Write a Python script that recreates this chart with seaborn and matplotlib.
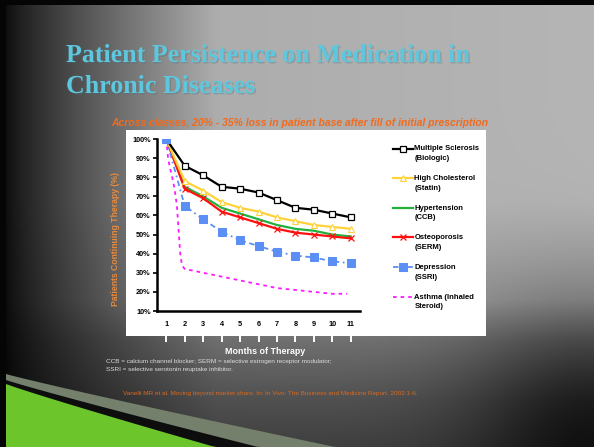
import numpy as np
import pandas as pd
import matplotlib
matplotlib.use("Agg")
import matplotlib.pyplot as plt
import seaborn as sns
from matplotlib.patches import Rectangle, Polygon
from matplotlib.lines import Line2D
from matplotlib.legend_handler import HandlerLine2D
import matplotlib.patheffects as pe

# ---------------- data ----------------
months = [1, 2, 3, 4, 5, 6, 7, 8, 9, 10, 11]
ms_biologic = [100, 86, 81, 75, 74, 72, 68, 64, 63, 61, 59]
chol_statin = [100, 78, 73, 67, 64, 62, 59, 57, 55, 54, 53]
htn_ccb = [100, 75, 70, 64, 61, 58, 55, 53, 52, 50, 49]
osteo_serm = [100, 74, 69, 62, 59, 56, 53, 51, 50, 49, 48]
depr_ssri = [100, 65, 58, 51.5, 47, 44, 41, 39, 38, 36, 35]
asthma_months = [1, 1.1, 1.2, 1.3, 1.45, 1.58, 1.67, 1.76, 1.85, 2, 3, 4, 5, 6, 7, 8, 9, 10, 10.8]
asthma_steroid = [100, 90, 85, 81, 74, 65, 52, 40, 34, 32, 30, 28, 26, 24, 22, 21, 20, 19, 19]

series_labels = ["Multiple Sclerosis\n(Biologic)", "High Cholesterol\n(Statin)",
                 "Hypertension\n(CCB)", "Osteoporosis\n(SERM)",
                 "Depression\n(SSRI)", "Asthma (Inhaled\nSteroid)"]
y_ticks = [10, 20, 30, 40, 50, 60, 70, 80, 90, 100]

W, H = 594, 447
fig = plt.figure(figsize=(W / 100, H / 100), dpi=100)

# ---------------- background ----------------
bg = fig.add_axes([0, 0, 1, 1], zorder=-10)
yy, xx = np.mgrid[0:H, 0:W].astype(float)
g = 0.66 + 0.05 * (xx / W)
f = np.clip((xx - 6) / 210.0, 0, 1) ** 0.8
g = g * (0.08 + 0.92 * f)
v = np.interp(yy, [0, 200, 300, 340, 400, 447], [1.0, 1.0, 0.86, 0.64, 0.46, 0.36])
g = g * v
g = g * (1 - 0.75 * np.exp(-((xx - W) ** 2 + (yy - H) ** 2) / (2 * 90.0 ** 2)))
g[:5, :] = 0.02
g[:, :6] = 0.02
bg.imshow(np.dstack([g, g, g]), extent=[0, W, H, 0], aspect="auto", interpolation="bilinear")
bg.set_xlim(0, W)
bg.set_ylim(H, 0)
bg.axis("off")

# swoosh
xs = np.linspace(6, 360, 80)
def curve(x0, y0, x1, y1, p=0.95):
    t = np.clip((xs - x0) / (x1 - x0), 0, 1)
    return y0 + (y1 - y0) * t ** p
top_gray = curve(6, 374, 335, 447)
top_black = curve(6, 380, 258, 447)
top_green = curve(6, 384, 215, 447)
for top, col in [(top_gray, "#74806c"), (top_black, "#0d0d0d"), (top_green, "#6cc52b")]:
    pts = [(x, y) for x, y in zip(xs, top) if y < 447] + [(xs[np.argmax(top >= 447)], 447), (6, 447)]
    bg.add_patch(Polygon(pts, closed=True, facecolor=col, edgecolor="none"))

# white chart panel
fig.patches.append(Rectangle((126 / W, 1 - 336 / H), 360 / W, 206 / H,
                             transform=fig.transFigure, facecolor="white",
                             edgecolor="none", zorder=-5))

# ---------------- titles ----------------
title_kw = dict(fontfamily="Liberation Serif", fontweight="bold", fontsize=18.7,
                color="#5ec6dd", ha="left", va="baseline",
                path_effects=[pe.withSimplePatchShadow(offset=(1, -1), shadow_rgbFace="#4a6a72", alpha=0.3)])
fig.text(66 / W, 1 - 62 / H, "Patient Persistence on Medication in", **title_kw)
fig.text(66 / W, 1 - 93 / H, "Chronic Diseases", **title_kw)
fig.text(300 / W, 1 - 123 / H,
         "Across classes, 20% - 35% loss in patient base after fill of initial prescription",
         fontfamily="Liberation Sans", fontweight="bold", fontstyle="italic", fontsize=7.5,
         color="#f26a1d", ha="center", va="center")

# ---------------- chart ----------------
ax = fig.add_axes([157 / W, 1 - 311 / H, 203 / W, 172 / H])
ax.set_facecolor("none")

df = pd.DataFrame({"month": months, "ms": ms_biologic, "chol": chol_statin,
                   "htn": htn_ccb, "osteo": osteo_serm, "depr": depr_ssri})
df_a = pd.DataFrame({"month": asthma_months, "asthma": asthma_steroid})

sns.lineplot(data=df, x="month", y="ms", ax=ax, color="black", lw=1.6,
             marker="s", markersize=5, markerfacecolor="white", markeredgecolor="black",
             markeredgewidth=0.9, label=series_labels[0], zorder=6)
sns.lineplot(data=df, x="month", y="chol", ax=ax, color="#ffd23a", lw=1.6,
             marker="^", markersize=5, markerfacecolor="white", markeredgecolor="#ffd23a",
             markeredgewidth=0.8, label=series_labels[1], zorder=5)
sns.lineplot(data=df, x="month", y="htn", ax=ax, color="#22b13c", lw=1.6,
             label=series_labels[2], zorder=4)
sns.lineplot(data=df, x="month", y="osteo", ax=ax, color="#ff1010", lw=1.6,
             marker="x", markersize=4, markeredgecolor="#ff1010", markeredgewidth=0.9,
             label=series_labels[3], zorder=4)
sns.lineplot(data=df, x="month", y="depr", ax=ax, color="#5b8ff5", lw=1.3,
             linestyle=(0, (3, 2, 1, 2)),
             marker="s", markersize=5.5, markerfacecolor="#5b8ff5", markeredgecolor="#5b8ff5",
             label=series_labels[4], zorder=7)
sns.lineplot(data=df_a, x="month", y="asthma", ax=ax, color="#ff1aff", lw=1.3,
             linestyle=(0, (2, 2.2)), label=series_labels[5], zorder=3)

ax.set_xlim(0.5, 11.5)
ax.set_ylim(10, 100)
ax.set_xticks(months)
ax.set_xticklabels([str(m) for m in months])
ax.set_yticks(y_ticks)
ax.set_yticklabels([f"{t}%" for t in y_ticks])
ax.set_xlabel("")
ax.set_ylabel("")
for s in ["top", "right"]:
    ax.spines[s].set_visible(False)
for s in ["left", "bottom"]:
    ax.spines[s].set_linewidth(1.8)
    ax.spines[s].set_color("black")
ax.tick_params(axis="x", length=0, pad=7)
ax.tick_params(axis="y", length=3, width=1.2, pad=1.5)
for lab in ax.get_xticklabels() + ax.get_yticklabels():
    lab.set_fontfamily("Liberation Sans")
    lab.set_fontweight("bold")
    lab.set_fontsize(5.3)
ax.grid(False)

# white tick marks below the panel
sec = ax.secondary_xaxis(-0.163)
sec.set_xticks(months)
sec.tick_params(axis="x", length=4, width=1.4, color="white", labelbottom=False, direction="inout")
sec.spines["bottom"].set_visible(False)


class UpHandler(HandlerLine2D):
    def create_artists(self, legend, orig_handle, xdescent, ydescent, width, height, fontsize, trans):
        arts = super().create_artists(legend, orig_handle, xdescent, ydescent, width, height,
                                      fontsize, trans)
        for a in arts:
            a.set_ydata(np.asarray(a.get_ydata(), dtype=float) + 3.6)
        return arts


leg = ax.legend(loc="upper left", bbox_to_anchor=(393 / W, 1 - 145.5 / H),
                bbox_transform=fig.transFigure, frameon=False,
                prop={"family": "Liberation Sans", "weight": "bold", "size": 5.5},
                handlelength=2.6, handletextpad=0.2, labelspacing=1.72, borderaxespad=0,
                borderpad=0, handler_map={Line2D: UpHandler()})
for t in leg.get_texts():
    t.set_linespacing(1.5)

# y label on grey strip
fig.text(115 / W, 1 - 239 / H, "Patients Continuing Therapy (%)", rotation=90,
         fontfamily="Liberation Sans", fontweight="bold", fontsize=6.2,
         color="#e98a3c", ha="center", va="center")

fig.text(265 / W, 1 - 352 / H, "Months of Therapy", fontfamily="Liberation Sans",
         fontweight="bold", fontsize=6.4, color="white", ha="center", va="center")
fig.text(106 / W, 1 - 361 / H,
         "CCB = calcium channel blocker; SERM = selective estrogen receptor modulator;",
         fontfamily="Liberation Sans", fontsize=4.6, color="#dcdcdc", ha="left", va="center")
fig.text(106 / W, 1 - 369.5 / H, "SSRI = selective serotonin reuptake inhibitor.",
         fontfamily="Liberation Sans", fontsize=4.6, color="#dcdcdc", ha="left", va="center")
fig.text(123 / W, 1 - 394 / H,
         "Vanelli MR et al. Moving beyond market share. In: In Vivo: The Business and Medicine Report. 2002:1-6.",
         fontfamily="Liberation Sans", fontsize=4.55, color="#d9691f", ha="left", va="center")

fig.savefig("out.png", dpi=100)
